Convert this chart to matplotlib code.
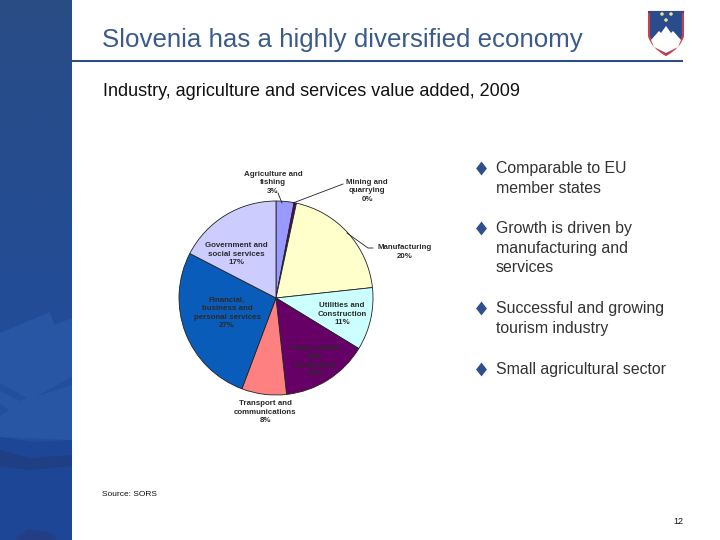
import numpy as np
import matplotlib
matplotlib.use('Agg')
import matplotlib.pyplot as plt
from matplotlib.colors import LinearSegmentedColormap
from matplotlib.patches import Polygon, Ellipse, PathPatch
from matplotlib.path import Path

# slice shares, clockwise from 12 o'clock
sectors = ['Agriculture and\nfishing', 'Mining and\nquarrying', 'Manufacturing',
           'Utilities and\nConstruction', 'Trade, Hotels\nand\nrestaurants',
           'Transport and\ncommunications', 'Financial,\nbusiness and\npersonal services',
           'Government and\nsocial services']
shares = [3.0, 0.4, 20.0, 10.5, 14.6, 7.5, 27.0, 17.5]
share_labels = ['3%', '0%', '20%', '11%', '14%', '8%', '27%', '17%']
colors = ['#9999FF', '#660066', '#FFFFCC', '#CCFFFF', '#660066', '#FF8080', '#0A5CBB', '#CCCCFF']
label_pos = [(273, 183), (367, 191), (405, 252), (342, 314), (315, 361), (265, 412), (227, 313), (236, 254)]

bullets = ['Comparable to EU\nmember states',
           'Growth is driven by\nmanufacturing and\nservices',
           'Successful and growing\ntourism industry',
           'Small agricultural sector']
bullet_y = [168, 228, 308, 369]

W, H = 720, 540
plt.rcParams['font.family'] = ['Liberation Sans', 'DejaVu Sans']
fig = plt.figure(figsize=(W / 100, H / 100), dpi=100)

# full-figure axes in pixel coordinates for everything around the pie
bg = fig.add_axes([0, 0, 1, 1])
bg.set_xlim(0, W)
bg.set_ylim(H, 0)
bg.axis('off')

# left band: vertical gradient, lighter swoosh and darker stripes over it
band_cmap = LinearSegmentedColormap.from_list('band', ['#2A4C85', '#234C95', '#2250A0'])
bg.imshow(np.linspace(0, 1, 256).reshape(-1, 1), extent=(0, 72, H, 0), aspect='auto',
          cmap=band_cmap, interpolation='bilinear', zorder=1)
bg.set_xlim(0, W)
bg.set_ylim(H, 0)
swooshes = [([(0, 333), (50, 312), (54, 325), (72, 318), (72, 440), (0, 437)], '#2856A5'),
            ([(0, 383), (27, 398), (20, 401), (0, 391)], '#234E9F'),
            ([(0, 404), (9, 410), (0, 416)], '#234E9F'),
            ([(35, 397), (72, 377), (72, 385), (50, 392)], '#234E9F'),
            ([(0, 437), (35, 442), (72, 440), (72, 540), (0, 540)], '#1D4696'),
            ([(0, 450), (30, 458), (72, 455), (72, 466), (30, 470), (0, 466)], '#1F3E84'),
            ([(14, 540), (28, 529), (48, 532), (58, 540)], '#233E84')]
for pts, c in swooshes:
    bg.add_patch(Polygon(pts, closed=True, color=c, lw=0, zorder=2))

bg.plot([72, 683], [61, 61], color='#2F4F82', lw=1.5, solid_capstyle='butt', zorder=3)
bg.text(102, 39.5, 'Slovenia has a highly diversified economy', fontsize=18.6, color='#3A5A8C', va='center', ha='left')
bg.text(103, 91, 'Industry, agriculture and services value added, 2009', fontsize=13, color='#111111', va='center', ha='left')
bg.text(102, 495, 'Source: SORS', fontsize=6, color='#111111', va='center', ha='left')
bg.text(683, 522, '12', fontsize=6.5, color='#111111', va='center', ha='right')

# coat of arms
shield = Path([(649, 12), (683, 12), (683, 36), (680, 47), (666, 55), (652, 47), (649, 36), (649, 12)],
              [Path.MOVETO, Path.LINETO, Path.LINETO, Path.CURVE3, Path.CURVE3, Path.CURVE3, Path.CURVE3, Path.LINETO])
bg.add_patch(PathPatch(shield, facecolor='#2A4C8C', edgecolor='#C8404C', lw=1.5, zorder=3))
bg.plot([649, 683], [11.5, 11.5], color='#2A4C8C', lw=1.5, zorder=4)
bg.add_patch(Polygon([(651, 40), (659, 31), (661, 33), (666, 26), (671, 33), (673, 31), (681, 40),
                      (678, 47), (666, 53), (654, 47)], closed=True, color='white', lw=0, zorder=4))
for x, y in [(662, 14), (671, 14), (666, 20)]:
    bg.add_patch(Ellipse((x, y), 3.5, 3.5, color='#E8E890', lw=0, zorder=4))

# bullets
diamond = [(-0.78, 0), (0, 1), (0.78, 0), (0, -1)]
for txt, y in zip(bullets, bullet_y):
    bg.plot(480.5, y, marker=diamond, ms=10, mew=0, mfc='#2F4F8C', zorder=4)
    bg.text(496, y - 7, txt, fontsize=11.4, color='#333333', va='top', ha='left', linespacing=1.38)

# pie, centre (276, 298) and radius 97 px
cx, cy, r = 276, 298, 97
ax = fig.add_axes([(cx - r) / W, 1 - (cy + r) / H, 2 * r / W, 2 * r / H])
ax.pie(shares, colors=colors, startangle=90, counterclock=False, radius=1,
       wedgeprops=dict(edgecolor='#222222', linewidth=0.6))
ax.set_xlim(-1, 1)
ax.set_ylim(-1, 1)
ax.patch.set_alpha(0)
ax.set_zorder(2)

# labels sit on top, in a transparent copy of the pixel axes
top = fig.add_axes([0, 0, 1, 1])
top.set_xlim(0, W)
top.set_ylim(H, 0)
top.axis('off')
top.set_zorder(3)
for name, pct, (x, y) in zip(sectors, share_labels, label_pos):
    top.text(x, y, f'{name}\n{pct}', fontsize=5.7, fontweight='bold', color='#2A2A2A',
             ha='center', va='center', linespacing=1.25)

# leader lines
top.plot([278, 282], [193, 203], color='#222222', lw=0.6)
top.plot([293, 343], [203, 184], color='#222222', lw=0.6)
top.plot([347, 368, 373], [233, 248, 248], color='#222222', lw=0.6)

fig.savefig('out.png', dpi=100)
